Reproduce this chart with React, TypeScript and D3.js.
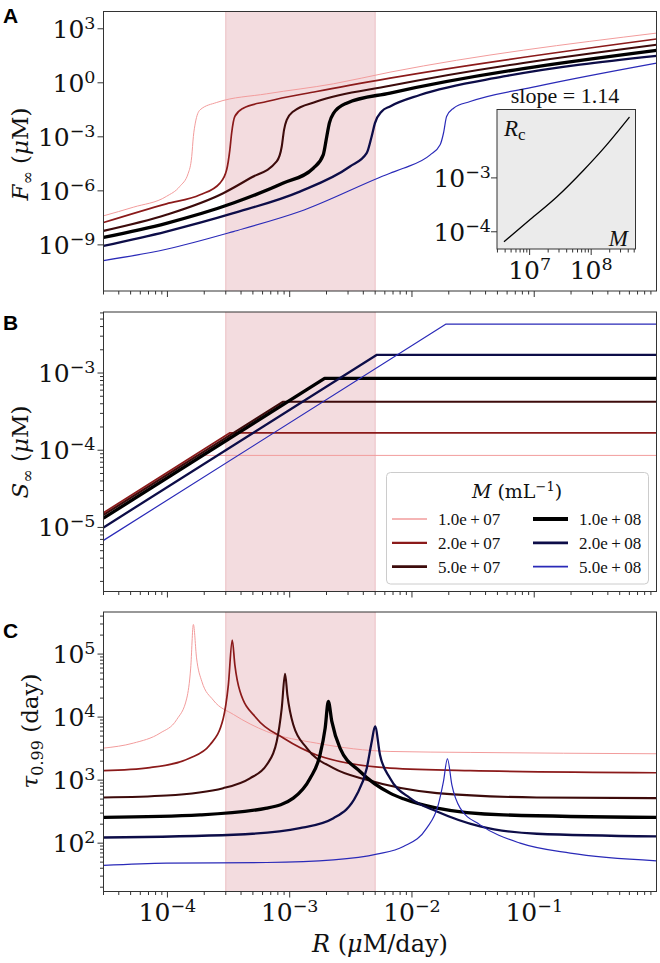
import React, { useRef, useEffect } from 'react';
import * as d3 from 'd3';

type Pt = [number, number];

// concentrations of the six series
const M_VALUES = [1e7, 2e7, 5e7, 1e8, 2e8, 5e8];
const M_LABELS = ['1.0e+07', '2.0e+07', '5.0e+07', '1.0e+08', '2.0e+08', '5.0e+08'];
const COLORS = ['#f29c9c', '#8b1a1a', '#3d0b0b', '#000000', '#0d0d48', '#2a2ab8'];
const WIDTHS = [1, 1.7, 2.1, 3.3, 2.3, 1.2];

const R_DOMAIN: Pt = [3e-5, 1];
const SHADE_RANGE: Pt = [3e-4, 5e-3];
const X_MAJOR = [1e-4, 1e-3, 1e-2, 1e-1];

// panel A: F_inf (uM) vs R
const F_INF: Pt[][] = [
  [[3e-5, 4.1e-8], [5.25e-5, 1.23e-7], [9.8e-5, 4.9e-7], [1.26e-4, 1.74e-6], [1.48e-4, 9.5e-6], [1.58e-4, 8.1e-5],
   [1.63e-4, 1.05e-3], [1.69e-4, 5.75e-3], [1.85e-4, 3.16e-2], [2.53e-4, 8.1e-2], [6.49e-4, 0.245], [2.28e-3, 0.88],
   [6.62e-3, 3.9], [1, 575]],
  [[3e-5, 1.74e-8], [9.8e-5, 1.9e-7], [1.85e-4, 6.0e-7], [2.69e-4, 2.7e-6], [3.05e-4, 1.48e-5], [3.24e-4, 1.9e-4],
   [3.35e-4, 1.58e-3], [3.56e-4, 1.35e-2], [4.17e-4, 3.9e-2], [6.49e-4, 9.1e-2], [1.66e-3, 0.33], [6.62e-3, 1.82],
   [1, 270]],
  [[3e-5, 6.0e-9], [9.8e-5, 4.7e-8], [2.86e-4, 7.4e-7], [4.73e-4, 5.0e-6], [7.83e-4, 4.3e-5], [8.61e-4, 2.9e-4],
   [8.99e-4, 2.45e-3], [9.46e-4, 8.7e-3], [1.07e-3, 2.57e-2], [1.66e-3, 9.1e-2], [6.62e-3, 0.68], [1, 129]],
  [[3e-5, 2.6e-9], [9.8e-5, 1.58e-8], [3.46e-4, 2.1e-7], [8.87e-4, 2.7e-6], [1.56e-3, 1.8e-5], [1.88e-3, 1.0e-4],
   [2.01e-3, 1.05e-3], [2.11e-3, 5.75e-3], [2.28e-3, 2.0e-2], [2.92e-3, 7.4e-2], [6.62e-3, 0.27], [1, 63]],
  [[3e-5, 8.7e-10], [9.8e-5, 5.5e-9], [3.46e-4, 5.75e-8], [1.21e-3, 9.1e-7], [3.11e-3, 2.24e-5], [4.26e-3, 1.23e-4],
   [4.68e-3, 1.05e-3], [4.98e-3, 5.75e-3], [5.65e-3, 2.57e-2], [6.62e-3, 4.9e-2], [1.16e-2, 0.21], [5.6e-2, 2.24],
   [1, 31.6]],
  [[3e-5, 1.35e-10], [9.8e-5, 5.75e-10], [3.46e-4, 5.5e-9], [1.21e-3, 7.1e-8], [6.62e-3, 9.5e-6], [8.51e-3, 1.8e-5],
   [1.41e-2, 1.0e-4], [1.7e-2, 3.6e-4], [1.81e-2, 1.58e-3], [1.92e-2, 1.35e-2], [2.19e-2, 3.9e-2], [2.99e-2, 9.1e-2],
   [0.105, 0.63], [1, 12.3]],
];

// panel B: S_inf (uM) vs R
const S_INF: Pt[][] = [
  [[3e-5, 1.5e-5], [1.71e-4, 8.57e-5], [1, 8.57e-5]],
  [[3e-5, 1.55e-5], [3.25e-4, 1.68e-4], [1, 1.68e-4]],
  [[3e-5, 1.45e-5], [8.77e-4, 4.24e-4], [1, 4.24e-4]],
  [[3e-5, 1.32e-5], [1.93e-3, 8.51e-4], [1, 8.51e-4]],
  [[3e-5, 1.0e-5], [5.17e-3, 1.72e-3], [1, 1.72e-3]],
  [[3e-5, 6.8e-6], [1.9e-2, 4.3e-3], [1, 4.3e-3]],
];

// panel C: tau_0.99 (day) vs R
const TAU_99: Pt[][] = [
  [[3e-5, 3.22e3], [5.25e-5, 3.86e3], [8.7e-5, 5.57e3], [1.19e-4, 9.1e3], [1.44e-4, 2.0e4], [1.55e-4, 6.0e4],
   [1.63e-4, 2.95e5], [1.73e-4, 8.7e4], [1.91e-4, 3.7e4], [2.37e-4, 1.86e4], [3.47e-4, 1.1e4], [6.49e-4, 5.9e3],
   [1.66e-3, 3.86e3], [6.62e-3, 2.85e3], [2.99e-2, 2.75e3], [1, 2.62e3]],
  [[3e-5, 1.41e3], [7.19e-5, 1.58e3], [1.53e-4, 2.24e3], [2.23e-4, 3.63e3], [2.86e-4, 9.5e3], [3.15e-4, 3.24e4],
   [3.39e-4, 1.66e5], [3.56e-4, 6.76e4], [3.92e-4, 2.57e4], [5.37e-4, 9.5e3], [8.87e-4, 4.65e3], [1.66e-3, 2.51e3],
   [6.62e-3, 1.55e3], [2.99e-2, 1.41e3], [1, 1.31e3]],
  [[3e-5, 531], [9.8e-5, 571], [2.86e-4, 746], [4.73e-4, 1.07e3], [6.49e-4, 1.75e3], [7.83e-4, 4.11e3],
   [8.61e-4, 1.39e4], [9.16e-4, 4.86e4], [9.57e-4, 2.26e4], [1.07e-3, 7.55e3], [1.38e-3, 3.22e3], [2.28e-3, 1.55e3],
   [4.27e-3, 1.01e3], [1.6e-2, 622], [0.105, 531], [1, 518]],
  [[3e-5, 256], [1.85e-4, 281], [6.49e-4, 360], [1.07e-3, 518], [1.47e-3, 1.07e3], [1.77e-3, 2.51e3],
   [1.95e-3, 6.68e3], [2.07e-3, 1.77e4], [2.21e-3, 8.55e3], [2.58e-3, 3.22e3], [3.76e-3, 1.37e3], [6.62e-3, 622],
   [8.51e-3, 505], [1.6e-2, 360], [5.6e-2, 281], [1, 256]],
  [[3e-5, 123], [3.47e-4, 136], [1.21e-3, 173], [2.28e-3, 249], [3.53e-3, 585], [4.27e-3, 1.55e3],
   [4.69e-3, 4.11e3], [4.99e-3, 7.1e3], [5.48e-3, 2.51e3], [6.62e-3, 1.07e3], [9.64e-3, 518], [1.6e-2, 318],
   [3.61e-2, 184], [0.105, 141], [1, 128]],
  [[3e-5, 44.3], [9.8e-5, 48.2], [6.49e-4, 49.3], [2.28e-3, 54.3], [5.15e-3, 66.8], [8.51e-3, 88.5],
   [1.32e-2, 173], [1.64e-2, 406], [1.81e-2, 955], [1.95e-2, 2.18e3], [2.12e-2, 841], [2.48e-2, 360],
   [3.61e-2, 195], [7.67e-2, 100], [0.197, 69.3], [1, 52.4]],
];

// inset: critical R vs M
const INSET_M = [3.83e6, 1.03e7, 2.78e7, 7.52e7, 1.58e8, 4.19e8];
const INSET_RC = [6.53e-5, 1.7e-4, 4.47e-4, 1.39e-3, 3.5e-3, 1.35e-2];
const INSET_X_MAJOR = [1e7, 1e8];
const INSET_Y_MAJOR = [1e-4, 1e-3];
const SLOPE_LABEL = 'slope = 1.14';

const SERIF = '"Liberation Serif", "Times New Roman", serif';
const MATH = '"DejaVu Serif", serif';
const SANS = '"Liberation Sans", Arial, sans-serif';
const FRAME = '#333';
const TICK_SIZE = 25;
const X0 = 103.5, X1 = 656.5;

type Sel = d3.Selection<any, unknown, null, undefined>;

const minorTicks = (d0: number, d1: number) => {
  const out: number[] = [];
  for (let n = Math.floor(Math.log10(d0)); n <= Math.ceil(Math.log10(d1)); n++) {
    for (let k = 2; k <= 9; k++) {
      const v = k * Math.pow(10, n);
      if (v >= d0 && v <= d1) out.push(v);
    }
  }
  return out;
};

const powLabel = (t: Sel, v: number, size: number) => {
  const e = Math.round(Math.log10(v));
  t.append('tspan').text('10');
  t.append('tspan').attr('dy', -size * 0.36).attr('font-size', size * 0.7).text(String(e).replace('-', '\u2212'));
};

const App: React.FC = () => {
  const svgRef = useRef<SVGSVGElement | null>(null);

  useEffect(() => {
    if (!svgRef.current) return;
    const svg = d3.select(svgRef.current);
    svg.selectAll('*').remove();
    const defs = svg.append('defs');

    const x = d3.scaleLog().domain(R_DOMAIN).range([X0, X1]);

    const panels = [
      { key: 'A', top: 11.5, bottom: 291, domain: [2.75e-12, 9.1e3], data: F_INF, curve: d3.curveMonotoneX,
        yMajor: [1e-9, 1e-6, 1e-3, 1, 1e3], minor: false, labelX: 28, labelY: 154, letterY: 23 },
      { key: 'B', top: 312, bottom: 591.5, domain: [1.48e-6, 6.17e-3], data: S_INF, curve: d3.curveLinear,
        yMajor: [1e-5, 1e-4, 1e-3], minor: true, labelX: 28, labelY: 452, letterY: 330 },
      { key: 'C', top: 612, bottom: 891.5, domain: [17.1, 4.65e5], data: TAU_99, curve: d3.curveMonotoneX,
        yMajor: [1e2, 1e3, 1e4, 1e5], minor: true, labelX: 38, labelY: 731, letterY: 638 },
    ];

    panels.forEach((p, pi) => {
      const y = d3.scaleLog().domain(p.domain).range([p.bottom, p.top]);
      const g = svg.append('g');
      const clipId = `clip-${p.key}`;
      defs.append('clipPath').attr('id', clipId).append('rect')
        .attr('x', X0).attr('y', p.top).attr('width', X1 - X0).attr('height', p.bottom - p.top);

      // shaded band
      g.append('rect')
        .attr('x', x(SHADE_RANGE[0])).attr('width', x(SHADE_RANGE[1]) - x(SHADE_RANGE[0]))
        .attr('y', p.top).attr('height', p.bottom - p.top)
        .attr('fill', '#f3dcdf');
      SHADE_RANGE.forEach(v => {
        g.append('line').attr('x1', x(v)).attr('x2', x(v)).attr('y1', p.top).attr('y2', p.bottom)
          .attr('stroke', '#ecbfc4').attr('stroke-width', 1);
      });

      const line = d3.line<Pt>().x(d => x(d[0])).y(d => y(d[1])).curve(p.curve);
      const lines = g.append('g').attr('clip-path', `url(#${clipId})`);
      p.data.forEach((s, i) => {
        lines.append('path')
          .attr('d', line(s))
          .attr('fill', 'none')
          .attr('stroke', COLORS[i])
          .attr('stroke-width', WIDTHS[i])
          .attr('stroke-linejoin', 'round');
      });

      // frame
      g.append('rect').attr('x', X0).attr('y', p.top).attr('width', X1 - X0).attr('height', p.bottom - p.top)
        .attr('fill', 'none').attr('stroke', FRAME).attr('stroke-width', 1);

      // x ticks
      X_MAJOR.forEach(v => {
        g.append('line').attr('x1', x(v)).attr('x2', x(v)).attr('y1', p.bottom).attr('y2', p.bottom + 6)
          .attr('stroke', FRAME);
      });
      minorTicks(R_DOMAIN[0], R_DOMAIN[1]).forEach(v => {
        g.append('line').attr('x1', x(v)).attr('x2', x(v)).attr('y1', p.bottom).attr('y2', p.bottom + 3.5)
          .attr('stroke', FRAME);
      });

      // y ticks
      p.yMajor.forEach(v => {
        g.append('line').attr('x1', X0 - 6).attr('x2', X0).attr('y1', y(v)).attr('y2', y(v)).attr('stroke', FRAME);
        const t = g.append('text').attr('x', X0 - 8).attr('y', y(v) + 9)
          .attr('text-anchor', 'end').attr('font-family', MATH).attr('font-size', TICK_SIZE).attr('fill', '#111');
        powLabel(t, v, TICK_SIZE);
      });
      if (p.minor) {
        minorTicks(p.domain[0], p.domain[1]).forEach(v => {
          g.append('line').attr('x1', X0 - 3.5).attr('x2', X0).attr('y1', y(v)).attr('y2', y(v)).attr('stroke', FRAME);
        });
      }

      // y label
      const yl = g.append('text')
        .attr('transform', `translate(${p.labelX},${p.labelY}) rotate(-90)`)
        .attr('text-anchor', 'middle').attr('font-family', MATH).attr('font-size', 23).attr('fill', '#111');
      if (pi === 0 || pi === 1) {
        yl.append('tspan').attr('font-style', 'italic').text(pi === 0 ? 'F' : 'S');
        yl.append('tspan').attr('dy', 5).attr('font-size', 16).text('\u221e');
        yl.append('tspan').attr('dy', -5).text(' (');
        yl.append('tspan').attr('font-style', 'italic').text('\u03bc');
        yl.append('tspan').text('M)');
      } else {
        yl.append('tspan').attr('font-style', 'italic').text('\u03c4');
        yl.append('tspan').attr('dy', 5).attr('font-size', 16).text('0.99');
        yl.append('tspan').attr('dy', -5).text(' (day)');
      }

      // panel letter
      svg.append('text').attr('x', 3).attr('y', p.letterY)
        .attr('font-family', SANS).attr('font-weight', 'bold').attr('font-size', 21).attr('fill', '#000')
        .text(p.key);

      // x tick labels, last panel only
      if (pi === 2) {
        X_MAJOR.forEach(v => {
          const t = g.append('text').attr('x', x(v)).attr('y', 921)
            .attr('text-anchor', 'middle').attr('font-family', MATH).attr('font-size', TICK_SIZE).attr('fill', '#111');
          powLabel(t, v, TICK_SIZE);
        });
        const xl = g.append('text').attr('x', (X0 + X1) / 2).attr('y', 952)
          .attr('text-anchor', 'middle').attr('font-family', MATH).attr('font-size', 24).attr('fill', '#111');
        xl.append('tspan').attr('font-style', 'italic').text('R');
        xl.append('tspan').text(' (');
        xl.append('tspan').attr('font-style', 'italic').text('\u03bc');
        xl.append('tspan').text('M/day)');
      }

      // legend in panel B
      if (pi === 1) {
        const lg = g.append('g');
        lg.append('rect').attr('x', 386.5).attr('y', 472.5).attr('width', 262).attr('height', 111.5)
          .attr('rx', 4).attr('fill', '#fff').attr('fill-opacity', 0.85).attr('stroke', '#cccccc');
        const tt = lg.append('text').attr('x', 517).attr('y', 498).attr('text-anchor', 'middle')
          .attr('font-family', MATH).attr('font-size', 19).attr('fill', '#111');
        tt.append('tspan').attr('font-style', 'italic').text('M');
        tt.append('tspan').text(' (mL');
        tt.append('tspan').attr('dy', -7).attr('font-size', 13).text('\u22121');
        tt.append('tspan').attr('dy', 7).text(')');
        M_VALUES.forEach((_, i) => {
          const col = Math.floor(i / 3), row = i % 3;
          const ly = 519 + row * 23.8;
          const lx = col === 0 ? 392 : 533;
          lg.append('line').attr('x1', lx).attr('x2', lx + 35).attr('y1', ly).attr('y2', ly)
            .attr('stroke', COLORS[i]).attr('stroke-width', WIDTHS[i] + 0.5);
          lg.append('text').attr('x', lx + 46).attr('y', ly + 6)
            .attr('font-family', SERIF).attr('font-size', 17).attr('fill', '#111')
            .text(M_LABELS[i].replace('+', '\u2009+\u2009'));
        });
      }

      // inset in panel A
      if (pi === 0) {
        const ix0 = 497, ix1 = 635.5, iy0 = 109.5, iy1 = 249;
        const ix = d3.scaleLog().domain([2.95e6, 5.25e8]).range([ix0, ix1]);
        const iy = d3.scaleLog().domain([4.79e-5, 1.86e-2]).range([iy1, iy0]);
        const ig = g.append('g');
        ig.append('rect').attr('x', ix0).attr('y', iy0).attr('width', ix1 - ix0).attr('height', iy1 - iy0)
          .attr('fill', '#ebebeb').attr('stroke', FRAME);
        const iline = d3.line<number>().x((_, i) => ix(INSET_M[i])).y(d => iy(d)).curve(d3.curveMonotoneX);
        ig.append('path').attr('d', iline(INSET_RC)).attr('fill', 'none').attr('stroke', '#000').attr('stroke-width', 1.3);
        INSET_X_MAJOR.forEach(v => {
          ig.append('line').attr('x1', ix(v)).attr('x2', ix(v)).attr('y1', iy1).attr('y2', iy1 + 6).attr('stroke', FRAME);
          const t = ig.append('text').attr('x', ix(v)).attr('y', 279).attr('text-anchor', 'middle')
            .attr('font-family', MATH).attr('font-size', TICK_SIZE).attr('fill', '#111');
          powLabel(t, v, TICK_SIZE);
        });
        minorTicks(2.95e6, 5.25e8).forEach(v => {
          ig.append('line').attr('x1', ix(v)).attr('x2', ix(v)).attr('y1', iy1).attr('y2', iy1 + 3.5).attr('stroke', FRAME);
        });
        INSET_Y_MAJOR.forEach(v => {
          ig.append('line').attr('x1', ix0 - 6).attr('x2', ix0).attr('y1', iy(v)).attr('y2', iy(v)).attr('stroke', FRAME);
          const t = ig.append('text').attr('x', ix0 - 6).attr('y', iy(v) + 9).attr('text-anchor', 'end')
            .attr('font-family', MATH).attr('font-size', TICK_SIZE).attr('fill', '#111');
          powLabel(t, v, TICK_SIZE);
        });
        const rc = ig.append('text').attr('x', 504).attr('y', 136)
          .attr('font-family', SERIF).attr('font-size', 23).attr('fill', '#111');
        rc.append('tspan').attr('font-style', 'italic').text('R');
        rc.append('tspan').attr('dy', 4).attr('font-size', 17).text('c');
        ig.append('text').attr('x', 628).attr('y', 246).attr('text-anchor', 'end')
          .attr('font-family', SERIF).attr('font-style', 'italic').attr('font-size', 23).attr('fill', '#111')
          .text('M');
        ig.append('text').attr('x', 565).attr('y', 103).attr('text-anchor', 'middle')
          .attr('font-family', SERIF).attr('font-size', 22).attr('fill', '#111')
          .text(SLOPE_LABEL);
      }
    });
  }, []);

  return (
    <svg ref={svgRef} width={660} height={963}
      style={{ position: 'absolute', left: 0, top: 0, background: '#fff' }} />
  );
};

export default App;
